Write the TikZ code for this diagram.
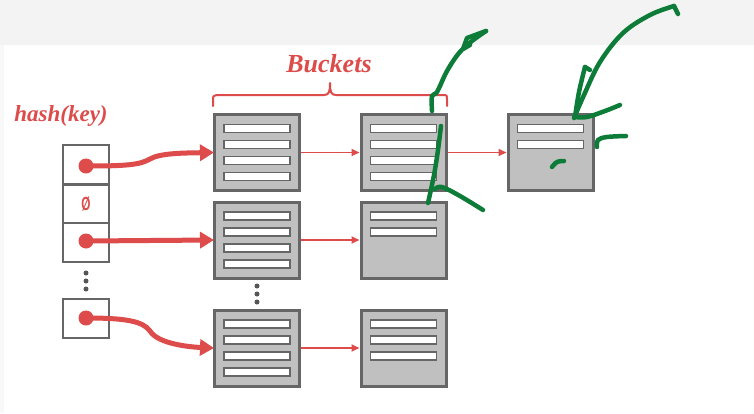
\documentclass[tikz,border=0pt]{standalone}
\usepackage{fontspec}
\setmainfont{Liberation Serif}
\newfontfamily\sansfont{Liberation Sans}
\usetikzlibrary{arrows.meta}
\definecolor{hred}{RGB}{221,75,75}
\definecolor{bordergray}{RGB}{102,102,102}
\definecolor{fillgray}{RGB}{192,192,192}
\definecolor{inkgreen}{RGB}{12,124,56}
\definecolor{bandgray}{RGB}{243,243,243}
\definecolor{dotgray}{RGB}{85,85,85}
\begin{document}
\begin{tikzpicture}[x=1pt,y=-1pt,
 bucket/.style={draw=bordergray, fill=fillgray, line width=3pt, minimum width=85pt, minimum height=76pt, inner sep=0pt},
 slot/.style={draw=bordergray, fill=white, line width=1.6pt, minimum width=66pt, minimum height=8pt, inner sep=0pt},
 cell/.style={draw=bordergray, fill=white, line width=2pt, minimum width=46pt, minimum height=39pt, inner sep=0pt},
 hdot/.style={circle, fill=hred, minimum size=15pt, inner sep=0pt},
 vdot/.style={circle, fill=dotgray, minimum size=5pt, inner sep=0pt},
 hasharrow/.style={draw=hred, line width=5pt, -{Triangle[length=14pt,width=16pt]}, shorten >=-1pt},
 linkarrow/.style={draw=hred, line width=1.8pt, -{Triangle[length=8pt,width=7pt]}},
 ink/.style={draw=inkgreen, line width=4.5pt, line cap=round, line join=round},
 redtitle/.style={text=hred, inner sep=0pt}
]
\useasboundingbox (0,0) rectangle (754,413);
\fill[white] (0,0) rectangle (754,413);
\fill[bandgray] (0,0) rectangle (754,45);
\fill[bandgray!60!white] (0,45) rectangle (4,413);

% titles
\node[redtitle, anchor=base, font=\fontsize{26}{30}\selectfont\bfseries\itshape] (buckets) at (329,72) {Buckets};
\node[redtitle, anchor=base, font=\fontsize{23}{27}\selectfont\bfseries\itshape] (hashkey) at (61,121) {hash(key)};

% brace
\draw[hred, line width=2pt, line cap=round, line join=round]
  (213,106) -- (213,100) .. controls (213,96) .. (217,95) -- (324,95)
  .. controls (329,95) and (330,92) .. (330,83)
  .. controls (330,92) and (331,95) .. (336,95) -- (443,95)
  .. controls (447,95) .. (447,100) -- (447,106);

% hash table cells
\node[cell] (h1) at (86,164.5) {};
\node[cell, text=hred, font=\sansfont\bfseries\fontsize{19}{20}\selectfont] (h2) at (86,204) {\scalebox{0.62}[1]{Ø}};
\node[cell] (h3) at (86,242.5) {};
\node[cell] (h4) at (86,318.5) {};
\node[hdot] (d1) at (86,166) {};
\node[hdot] (d3) at (86,241) {};
\node[hdot] (d4) at (86,318) {};
\foreach \i/\yy in {1/273,2/281,3/289} \node[vdot] (hv\i) at (86,\yy) {};

% buckets
\foreach \nm/\cx/\cy/\ns in {b11/257/152.5/4, b12/403.5/152.5/4, b13/550.5/152.5/2,
                              b21/257/240/4, b22/403.5/240/2,
                              b31/257/348/4, b32/403.5/348/3}{
  \node[bucket] (\nm) at (\cx,\cy) {};
  \foreach \k in {1,...,\ns} \node[slot] (\nm-s\k) at (\cx,{\cy-40+16*\k}) {};
}
\foreach \i/\yy in {1/286,2/294,3/302} \node[vdot] (bv\i) at (257,\yy) {};

% links between buckets
\draw[linkarrow] (b11.east) -- (b12.west);
\draw[linkarrow] (b12.east) -- (b13.west);
\draw[linkarrow] (b21.east) -- (b22.west);
\draw[linkarrow] (b31.east) -- (b32.west);

% hash pointers
\draw[hasharrow] (d1.center) .. controls (125,166) and (140,165) .. (150,159)
   .. controls (160,153) and (185,153) .. (b11.west);
\draw[hasharrow] (d3.center) -- (b21.west);
\draw[hasharrow] (d4.center) .. controls (125,318) and (143,321) .. (150,331)
   .. controls (158,344) and (190,347) .. (b31.west);

% green ink annotations
\draw[ink] plot[smooth, tension=0.6] coordinates {(432,111) (432,96) (437,92) (447,71) (459,53) (472,41) (486,31)};
\draw[ink] (486,31) -- (467,38) -- (463,49) -- (470,45);
\draw[ink] plot[smooth, tension=0.6] coordinates {(441,126) (438,150) (434,175) (428,203)};
\draw[ink] plot[smooth, tension=0.6] coordinates {(435,189) (442,187) (460,196) (483,210)};
\draw[ink] (678,14) -- (674,6);
\draw[ink] plot[smooth, tension=0.6] coordinates {(674,6) (650,15) (623,33) (600,62) (584,95) (574,118)};
\draw[ink] (590,70) -- (585,67);
\draw[ink] plot[smooth, tension=0.6] coordinates {(585,67) (579,92) (575,117)};
\draw[ink] plot[smooth, tension=0.6] coordinates {(575,117) (587,117) (605,111) (620,105)};
\draw[ink] plot[smooth, tension=0.6] coordinates {(597,147) (598,140) (607,137) (626,136)};
\draw[ink] plot[smooth, tension=0.6] coordinates {(552,167) (557,162) (564,161)};
\end{tikzpicture}
\end{document}
